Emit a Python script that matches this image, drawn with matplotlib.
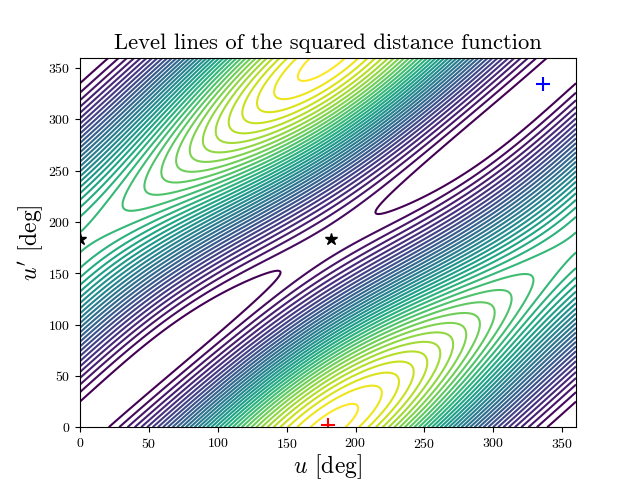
import numpy as np
import matplotlib
matplotlib.use("Agg")
import matplotlib.pyplot as plt

plt.rcParams['font.family'] = ['cmr10', 'DejaVu Sans']
plt.rcParams['mathtext.fontset'] = 'cm'
plt.rcParams['axes.formatter.use_mathtext'] = True
plt.rcParams['axes.unicode_minus'] = False

# Orbit elements (the field is the distance between two ellipses)
a1, e1 = 1.25, 0.20
a2, e2 = 1.00, 0.03
incl_deg = 10.0
level_first, level_last = 0.22, 5.98
n_levels = 37

crit_black_u = [0.0, 182.0]
crit_black_v = [183.0, 183.0]
crit_min = (336.0, 334.0)
crit_max = (180.0, 2.0)

u_deg = np.linspace(0, 360, 721)
v_deg = np.linspace(0, 360, 721)
U, V = np.meshgrid(np.radians(u_deg), np.radians(v_deg))
C, S = np.cos(np.radians(incl_deg)), np.sin(np.radians(incl_deg))
b1 = a1 * np.sqrt(1 - e1**2)
b2 = a2 * np.sqrt(1 - e2**2)
x1 = a1 * (np.cos(U) - e1)
y1 = b1 * np.sin(U)
x2 = a2 * (np.cos(V) - e2)
y2 = b2 * np.sin(V)
D2 = (x1 - C * x2)**2 + (y1 - y2)**2 + (S * x2)**2

fig, ax = plt.subplots(figsize=(6.4, 4.8), dpi=100)
ax.contour(u_deg, v_deg, D2, levels=np.linspace(level_first, level_last, n_levels), cmap='viridis', linewidths=1.5)
ax.plot(crit_black_u, crit_black_v, '*', color='k', ms=9, ls='none')
ax.plot(*crit_min, '+', color='b', ms=10, mew=1.5)
ax.plot(*crit_max, '+', color='r', ms=10, mew=1.5)
ax.set_xlim(0, 360)
ax.set_ylim(0, 360)
ax.set_xticks(np.arange(0, 351, 50))
ax.set_yticks(np.arange(0, 351, 50))
ax.set_xlabel(r'$u$ [deg]', fontsize=17, labelpad=1)
ax.set_ylabel(r"$u'$ [deg]", fontsize=17, labelpad=2)
ax.set_title('Level lines of the squared distance function', fontsize=16.3)
fig.savefig('out.png', dpi=100)
